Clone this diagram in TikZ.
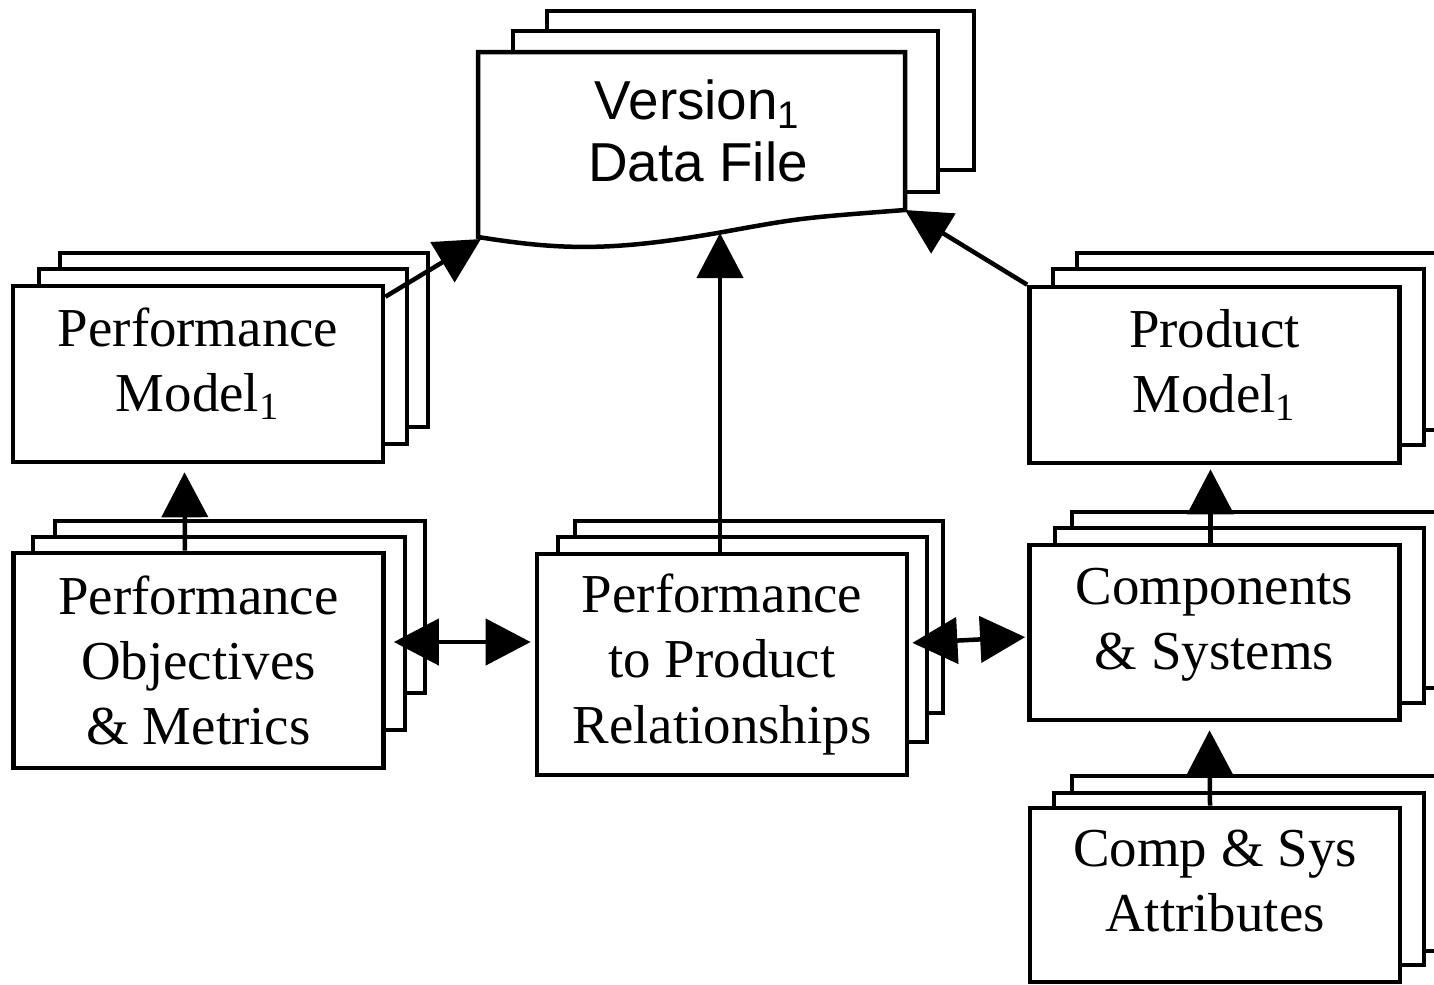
\documentclass[tikz,border=0pt]{standalone}
\usepackage{fontspec}
\setmainfont{Liberation Serif}
\newfontfamily\arialfont{Liberation Sans}
\usetikzlibrary{positioning}
\usetikzlibrary{calc}
\usetikzlibrary{arrows.meta}

\tikzset{
  card/.style={draw, fill=white, line width=0.045cm, inner sep=0pt, minimum width=3.7cm,
    align=center, font=\fontsize{15.6}{18.5}\selectfont},
  twoline/.style={text depth=0.28cm},
  page/.style={draw, fill=white, line width=0.045cm},
  flow/.style={-{Triangle[length=0.45cm, width=0.46cm]}, line width=0.045cm},
  dflow/.style={{Triangle[length=0.45cm, width=0.46cm]}-{Triangle[length=0.45cm, width=0.46cm]}, line width=0.045cm}
}

\begin{document}
\begin{tikzpicture}[x=0.01cm, y=-0.01cm]
  \useasboundingbox (0,0) rectangle (1434,984);

  % data file
  \draw[page] (547,11) rectangle (974,170);
  \draw[page] (513,31) rectangle (938,192);
  \draw[page] (478,52) -- (905,52) -- (905,210) .. controls (800,218) .. (723,232)
    .. controls (610,252) and (560,250) .. (478,237) -- cycle;
  \node[font=\arialfont\fontsize{15.6}{17.6}\selectfont, align=center] (data) at (698,131) {Version\textsubscript{1}\\Data File};
  \coordinate (dfl) at (481,239);
  \coordinate (dfm) at (720,233);
  \coordinate (dfr) at (905,210);

  % left column
  \draw[page] (60,253) rectangle (428,427);
  \draw[page] (39,269) rectangle (407,444);
  \node[card, twoline, minimum height=1.76cm] (pmodel) at (198,374) {Performance\\Model\textsubscript{1}};

  \draw[page] (55,521) rectangle (425,693);
  \draw[page] (33,537) rectangle (405,730);
  \node[card, minimum height=2.15cm] (pobj) at (198.5,660.5) {Performance\\Objectives\\\& Metrics};

  % middle
  \draw[page] (575,521) rectangle (943,713);
  \draw[page] (558,537) rectangle (927,742);
  \node[card, minimum height=2.21cm] (prel) at (722,664.5) {Performance\\to Product\\Relationships};

  % right column
  \draw[page] (1077,253) rectangle (1450,430);
  \draw[page] (1053,269) rectangle (1424,445);
  \node[card, twoline, minimum height=1.76cm] (prodmodel) at (1214.5,375) {Product\\Model\textsubscript{1}};

  \draw[page] (1072,512) rectangle (1450,688);
  \draw[page] (1055,528) rectangle (1424,703);
  \node[card, twoline, minimum height=1.75cm] (comp) at (1214.5,632.5) {Components\\\& Systems};

  \draw[page] (1072,776) rectangle (1450,951);
  \draw[page] (1054,793) rectangle (1424,965);
  \node[card, twoline, minimum height=1.74cm] (attr) at (1215,895) {Comp \& Sys\\Attributes};

  % arrows
  \draw[flow] ([yshift=-0.13cm]pmodel.north east) -- (dfl);
  \draw[flow] (prel.north -| dfm) -- (dfm);
  \draw[flow] (prodmodel.north west) -- (dfr);
  \draw[flow, shorten >=0.08cm] ([xshift=-0.135cm]pobj.north) -- ([xshift=-0.135cm]pmodel.south);
  \draw[flow, shorten >=0.04cm] ([xshift=-0.04cm]comp.north) -- ([xshift=-0.04cm]prodmodel.south);
  \draw[flow, shorten >=0.08cm] ([xshift=-0.05cm]attr.north) -- ([xshift=-0.05cm]comp.south);
  \draw[dflow, shorten <=0.08cm, shorten >=0.04cm] (pobj.east |- 0,642) -- (prel.west |- 0,642);
  \draw[dflow, shorten <=0.03cm, shorten >=0.02cm] (prel.east |- 0,643) -- (comp.west |- 0,637);

\end{tikzpicture}
\end{document}
